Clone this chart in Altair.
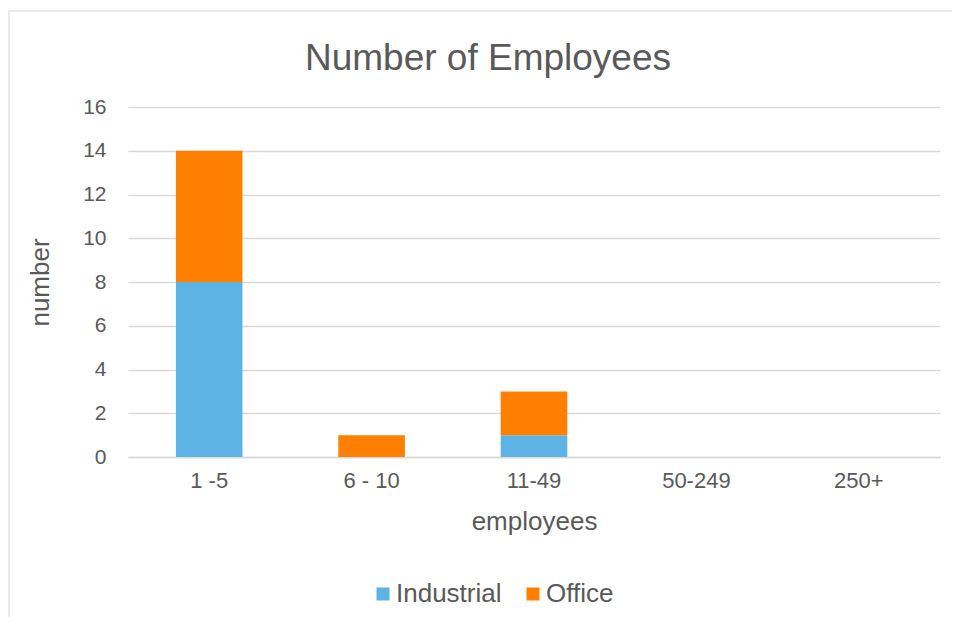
import altair as alt
import pandas as pd

categories = ["1 -5", "6 - 10", "11-49", "50-249", "250+"]
industrial = [8, 0, 1, 0, 0]
office = [6, 1, 2, 0, 0]
series = ["Industrial", "Office"]
colors = ["#5DB3E4", "#FF8000"]

rows = []
for i, c in enumerate(categories):
    rows.append({"employees": c, "series": "Industrial", "value": industrial[i], "ord": 0})
    rows.append({"employees": c, "series": "Office", "value": office[i], "ord": 1})
df = pd.DataFrame(rows)

FONT = "Liberation Sans"
GRAY = "#595959"

bars = alt.Chart(df).mark_bar().encode(
    x=alt.X("employees:N", sort=categories,
            scale=alt.Scale(paddingInner=0.59, paddingOuter=0.295),
            axis=alt.Axis(title="employees", labelAngle=0, labelFontSize=22,
                          labelColor=GRAY, titleFontSize=26, titleColor=GRAY,
                          titleFontWeight="normal", labelFont=FONT, titleFont=FONT,
                          ticks=False, domainColor="#D9D9D9", domainWidth=1.5,
                          labelPadding=13, titlePadding=17)),
    y=alt.Y("value:Q", stack="zero",
            scale=alt.Scale(domain=[0, 16]),
            axis=alt.Axis(title="number", values=list(range(0, 17, 2)),
                          labelFontSize=21, labelColor=GRAY, titleFontSize=26,
                          titleColor=GRAY, titleFontWeight="normal",
                          labelFont=FONT, titleFont=FONT, ticks=False,
                          domain=False, gridColor="#D9D9D9", gridWidth=1.3,
                          labelPadding=22, titlePadding=29)),
    color=alt.Color("series:N", sort=series,
                    scale=alt.Scale(domain=series, range=colors),
                    legend=alt.Legend(title=None, orient="none", direction="horizontal",
                                      legendX=242, legendY=474, symbolType="square",
                                      symbolSize=169, symbolStrokeWidth=0,
                                      labelFontSize=26, labelColor=GRAY, labelFont=FONT,
                                      columnPadding=18, labelOffset=0)),
    order=alt.Order("ord:Q"),
)

frame = alt.Chart(pd.DataFrame({"k": [0]})).mark_rect(
    fill=None, stroke="#E3E3E3", strokeWidth=1.5
).encode(x=alt.value(-119), x2=alt.value(860), y=alt.value(-96), y2=alt.value(620))

chart = alt.layer(frame, bars).properties(
    width=812, height=350,
    title=alt.TitleParams("Number of Employees", fontSize=37, font=FONT,
                          color=GRAY, fontWeight="normal", offset=-68, dx=-46),
    autosize=alt.AutoSizeParams(type="none"),
    padding={"left": 120, "top": 99, "right": 12, "bottom": 160},
).configure_view(stroke=None)

chart.save("out.html", embed_options={"renderer": "svg", "actions": False})
